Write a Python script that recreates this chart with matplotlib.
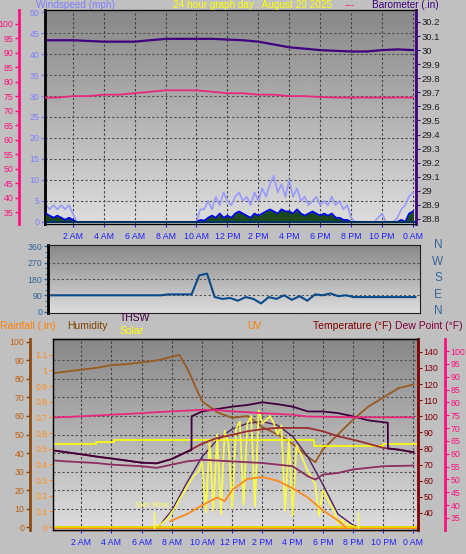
import numpy as np
import matplotlib.pyplot as plt

# ---- data ----
# wind, 15 minute steps from 0:15 to 24:00
wind_h = np.arange(0.25, 24.01, 0.25)
gust = [4, 3, 4, 3, 4, 3, 4, 2] + [0] * 32 + \
    [3, 3, 5, 3, 6, 4, 7, 5,
     4, 6, 7, 5, 6, 4, 7, 5,
     8, 6, 9, 11, 7, 9, 6, 10,
     6, 8, 5, 6, 4, 5, 6, 4,
     5, 4, 6, 4, 5, 3, 4, 1,
     0, 0, 0, 0, 0, 0, 1, 2,
     0, 0, 0, 1, 3, 4, 6, 7]
speed = [2, 1.5, 1, 1.5, 1, 0.5, 1, 0.5] + [0] * 32 + \
    [0.5, 0.3, 1, 1.5, 1, 2, 1, 1.5,
     1, 2, 2.5, 2, 1.5, 1, 2, 1.5,
     2, 2.5, 3, 2.5, 2, 3, 2.5, 2.5,
     2, 3, 2, 1.5, 2, 2.5, 2, 1.5,
     2, 1.5, 2, 1, 1, 0.5, 0.5, 0,
     0, 0, 0, 0, 0, 0, 0, 0,
     0, 0, 0, 0, 0.5, 0, 2, 2.5]

hours = np.arange(0, 25)
baro = [30.07, 30.07, 30.07, 30.065, 30.06, 30.06, 30.06, 30.07, 30.08, 30.08, 30.08, 30.08,
        30.075, 30.07, 30.06, 30.04, 30.02, 30.01, 30.0, 29.995, 29.99, 29.99, 30.0, 30.005, 30.0]
in_temp = [74.5, 74.5, 75, 75, 75.5, 75.5, 76, 76.5, 77, 77, 77, 76.5, 76, 76, 75.5, 75.5,
           75, 75, 74.7, 74.5, 74.5, 74.5, 74.5, 74.5, 74.5]

dir_h = np.arange(0, 24.01, 0.5)
wind_dir = [90] * 16 + [95, 95, 95, 95] + \
    [200, 210, 80, 70, 75, 60, 80, 70, 45, 80, 70, 90, 65, 85, 60, 95, 90, 100, 85, 90, 80] + [80] * 8

hum_h = [0, 1, 2, 3, 4, 5, 6, 7, 8, 8.5, 9, 10, 11, 12, 13, 14, 15, 16, 17, 17.5, 18, 19, 20, 21, 22, 23, 24]
humidity = [83, 84, 85, 86, 87.5, 88, 89, 90, 92, 93, 86, 68, 62, 59, 60, 54, 50, 45, 38, 35, 42, 50,
            58, 65, 70, 75, 77]

temp = [79, 77.7, 76.4, 75, 73.8, 72.5, 71.2, 70.8, 73.5, 78, 83, 86.5, 88.5, 90.7, 92, 92.8, 92.8,
        92.8, 90.7, 87.6, 85.5, 83, 80.4, 79.3, 77.7]
thsw_h = [0, 1, 2, 3, 4, 5, 6, 7, 8, 9, 9.3, 9.31, 10, 11, 12, 13, 14, 15, 16, 17, 18, 19, 20, 21,
          22.3, 22.31, 23, 24]
thsw = [79, 77.7, 76.4, 75, 73.8, 72.5, 71.2, 70.8, 73.5, 78, 79, 100, 103, 104.5, 106, 107, 108.7,
        107.5, 106, 103, 103, 102, 100, 97.5, 96, 80, 79.3, 77.7]
dew_h = [0, 1, 2, 3, 4, 5, 6, 7, 8, 9, 10, 11, 12, 13, 14, 15, 16, 17, 17.5, 18, 19, 20, 21, 22, 23, 24]
dew = [72.7, 72, 71.5, 71, 70, 69.5, 69, 68, 70, 72, 73, 72.5, 72, 71.5, 71, 70, 69, 62.8, 60.7,
       63.8, 64.8, 67, 68, 69, 69.2, 69.4]
in_temp2 = [74.1, 74.3, 74.6, 74.9, 75.2, 75.5, 75.8, 76.2, 76.5, 76.8, 77.1, 77, 76.5, 76.2,
            75.8, 75.5, 75.2, 74.5, 74.4, 74.3, 74.2, 74.2, 74.2, 74.2, 74.2]

solar_h = np.arange(6.75, 20.51, 0.25)
solar = [0, 5, 15, 30, 50, 80, 110, 150, 180, 220, 250, 280, 300, 350, 80, 470, 90, 500, 70, 520,
         450, 100, 530, 570, 120, 560, 600, 110, 630, 560, 580, 600, 560, 500, 550, 90, 480, 60,
         440, 400, 350, 300, 270, 230, 60, 200, 160, 120, 90, 20, 40, 20, 10, 5, 0, 0]
bell_h = [7.1, 8, 9, 10, 11, 12, 13, 14, 15, 16, 17, 18, 19, 20, 20.4]
bell = [0, 90, 240, 380, 470, 530, 560, 570, 550, 490, 380, 230, 70, 10, 0]
sol_step_h = [0, 3, 3, 4.2, 4.2, 17.4, 17.4, 22, 22, 24.3]
sol_step = [447, 447, 459, 459, 472, 472, 438, 438, 447, 447]
uv_h = [7.9, 8, 9, 10, 11, 11.5, 12, 13, 14, 15, 16, 17, 18, 19, 19.5]
uv = [0.3, 0.36, 0.7, 1.17, 1.6, 1.4, 2.0, 2.6, 2.7, 2.5, 2.1, 1.6, 0.9, 0.36, 0.0]

xticks = list(range(2, 25, 2))
xlabels = ['2 AM', '4 AM', '6 AM', '8 AM', '10 AM', '12 PM', '2 PM', '4 PM', '6 PM', '8 PM', '10 PM', '0 AM']

# ---- layout ----
W, H = 466, 554
fig = plt.figure(figsize=(W / 100, H / 100), dpi=100)
fig.patch.set_facecolor('#c0c0c0')
plt.rcParams['font.family'] = ['Liberation Sans', 'DejaVu Sans']
FS = 6.3


def box(l, t, r, b):
    return [l / W, 1 - b / H, (r - l) / W, (b - t) / H]


def panel(l, t, r, b):
    bg = fig.add_axes(box(l, t, r, b))
    grad = np.linspace(0, 1, 100).reshape(-1, 1)
    bg.imshow(grad, aspect='auto', cmap='gray', vmin=-1.6, vmax=1.4, extent=[0, 1, 0, 1])
    bg.set_axis_off()
    ax = fig.add_axes(box(l, t, r, b))
    ax.set_facecolor('none')
    for s in ax.spines.values():
        s.set_color('#202020')
    ax.spines['left'].set_linewidth(2)
    ax.spines['left'].set_color('black')
    return ax


def style_y(a, color, side='left', pos=None):
    a.tick_params(axis='y', colors=color, labelsize=FS, length=3, width=1, pad=1)
    if pos is not None:
        a.spines[side].set_position(('axes', pos))
        a.spines[side].set_color(color)
        a.spines[side].set_linewidth(2)


def grid_x(a, t0, t1):
    a.set_xlim(t0, t1)
    a.set_xticks(xticks)
    a.set_xticklabels(xlabels)
    a.tick_params(axis='x', colors='#2020ff', labelsize=FS, length=2)
    for x in xticks:
        a.axvline(x, color='#404040', lw=0.8, ls=(0, (2, 2)), zorder=1)


# top panel
ax1 = panel(45, 10, 416, 224)
grid_x(ax1, 0.2, 24.2)
ax1.set_ylim(-0.5, 50.5)
ax1.set_yticks(range(0, 51, 5))
style_y(ax1, '#8080ff')
for y in range(5, 50, 5):
    ax1.axhline(y, color='#505050', lw=0.8, ls=(0, (2, 2)), zorder=1)
ax1.plot(wind_h, gust, color='#9999ff', lw=1.2, zorder=2)
ax1.fill_between(wind_h, speed, 0, color='#1a4a1a', zorder=3)
ax1.plot(wind_h, speed, color='#0000ff', lw=1.2, zorder=4)
ax1.axhline(0, color='#003060', lw=1.5, zorder=4)

ax1b = ax1.twinx()
ax1b.set_ylim(28.764, 30.285)
bticks = np.round(np.arange(28.8, 30.21, 0.1), 1)
ax1b.set_yticks(bticks)
ax1b.set_yticklabels([f'{v:g}' for v in bticks])
ax1b.tick_params(axis='y', colors='#400080', labelsize=FS + 0.5, length=3, pad=1)
ax1b.tick_params(axis='y', labelcolor='#202020')
ax1b.spines['right'].set_color('#400080')
ax1b.spines['right'].set_linewidth(2)
ax1b.plot(hours, baro, color='#400080', lw=1.6)

ax1c = ax1.twinx()
ax1c.yaxis.set_ticks_position('left')
ax1c.set_ylim(30.9, 104.7)
ax1c.set_yticks(range(35, 101, 5))
style_y(ax1c, '#ff1080', 'left', (19 - 45) / (416 - 45))
ax1c.spines['right'].set_visible(False)
ax1c.plot(hours, in_temp, color='#e8287a', lw=1.3)

fig.text(36 / W, 1 - 5 / H, 'Windspeed (mph)', color='#8080ff', fontsize=7.2, va='center')
fig.text(173 / W, 1 - 5 / H, '24 hour graph day : August 20 2025', color='#ffff00', fontsize=7.2, va='center')
fig.text(345 / W, 1 - 5 / H, '---', color='#ff2060', fontsize=7.2, va='center')
fig.text(372 / W, 1 - 5 / H, 'Barometer (.in)', color='#400080', fontsize=7.2, va='center')

# middle panel
ax2 = panel(48, 245, 420, 313)
ax2.set_xlim(0.2, 24.3)
ax2.set_xticks([])
ax2.set_ylim(-8, 368)
ax2.set_yticks([0, 90, 180, 270, 360])
ax2.set_yticks(range(0, 361, 30), minor=True)
style_y(ax2, '#336699')
ax2.tick_params(axis='y', which='minor', colors='#336699', length=2)
for y in [90, 180, 270]:
    ax2.axhline(y, color='#505050', lw=0.8, ls=(0, (2, 2)), zorder=1)
ax2.plot(dir_h, wind_dir, color='#0b4a8a', lw=1.5)
for lab, y in zip(['N', 'W', 'S', 'E', 'N'], [245, 262, 278, 295, 311]):
    fig.text(438 / W, 1 - y / H, lab, color='#336699', fontsize=8.5, ha='center', va='center')

# bottom panel
ax3 = panel(53, 339, 418, 530)
grid_x(ax3, 0.13, 24.3)
ax3.set_ylim(-1.6, 101.6)
ax3.set_yticks(range(0, 101, 10))
style_y(ax3, '#8b4a10', 'left', (30 - 53) / (418 - 53))
ax3.tick_params(axis='y', labelcolor='#c06010')
for y in range(10, 100, 10):
    ax3.axhline(y, color='#505050', lw=0.8, ls=(0, (2, 2)), zorder=1)
ax3.plot(hum_h, humidity, color='#9a5a20', lw=1.3)

ax3r = ax3.twinx()
ax3r.yaxis.set_ticks_position('left')
ax3r.set_ylim(-0.019, 1.2)
rticks = np.round(np.arange(0, 1.11, 0.1), 1)
ax3r.set_yticks(rticks)
ax3r.set_yticklabels([f'{v:g}' for v in rticks])
ax3r.tick_params(axis='y', colors='#ff9020', labelsize=FS, length=3, pad=1)
ax3r.spines['right'].set_visible(False)
ax3r.spines['left'].set_visible(False)
ax3r.axhline(0, color='#ff8000', lw=2)

ax3s = ax3.twinx()
ax3s.set_ylim(-16, 1016)
ax3s.set_yticks([])
ax3s.spines['right'].set_visible(False)
ax3s.plot(sol_step_h, sol_step, color='#ffff00', lw=1.2)
ax3s.plot(bell_h, bell, color='#502060', lw=1)
ax3s.plot(solar_h, solar, color='#ffff40', lw=1.3, alpha=0.9)
ax3s.axhline(0, color='#e8d000', lw=1.5)
ax3s.vlines([6.85, 20.35], -10, 80, color='#ffff60', lw=1)

ax3u = ax3.twinx()
ax3u.set_ylim(-0.16, 10.16)
ax3u.set_yticks([])
ax3u.spines['right'].set_visible(False)
ax3u.plot(uv_h, uv, color='#ff8c1a', lw=1.3)

ax3t = ax3.twinx()
ax3t.set_ylim(29.4, 148)
ax3t.set_yticks(range(40, 141, 10))
ax3t.tick_params(axis='y', colors='#800000', labelsize=FS, length=3, pad=1)
ax3t.spines['right'].set_color('#800000')
ax3t.spines['right'].set_linewidth(2)
ax3t.plot(hours, temp, color='#9b2f2f', lw=1.3)
ax3t.plot(dew_h, dew, color='#8b2f5f', lw=1.3)
ax3t.plot(thsw_h, thsw, color='#400040', lw=1.3)

ax3d = ax3.twinx()
ax3d.set_ylim(30.3, 104.7)
ax3d.set_yticks(range(35, 101, 5))
ax3d.tick_params(axis='y', colors='#ff1080', labelsize=FS, length=3, pad=1)
ax3d.spines['right'].set_position(('axes', (445 - 53) / (418 - 53)))
ax3d.spines['right'].set_color('#ff1080')
ax3d.spines['right'].set_linewidth(2)
ax3d.plot(hours, in_temp2, color='#e8287a', lw=1.3)

fig.text(135 / W, 1 - 507 / H, 'Sun Rise', color='#ffff60', fontsize=6)
fig.text(0, 1 - 326 / H, 'Rainfall (.in)', color='#ff8000', fontsize=7.5, va='center')
fig.text(67 / W, 1 - 326 / H, 'Humidity', color='#804000', fontsize=7.5, va='center')
fig.text(120 / W, 1 - 318 / H, 'THSW', color='#400040', fontsize=7.5, va='center')
fig.text(120 / W, 1 - 331 / H, 'Solar', color='#ffff00', fontsize=7.5, va='center')
fig.text(247 / W, 1 - 326 / H, 'UV', color='#ff8000', fontsize=7.5, va='center')
fig.text(313 / W, 1 - 326 / H, 'Temperature (°F)', color='#800000', fontsize=7.5, va='center')
fig.text(395 / W, 1 - 326 / H, 'Dew Point (°F)', color='#800040', fontsize=7.5, va='center')

fig.savefig('out.png', dpi=100, facecolor=fig.get_facecolor())
